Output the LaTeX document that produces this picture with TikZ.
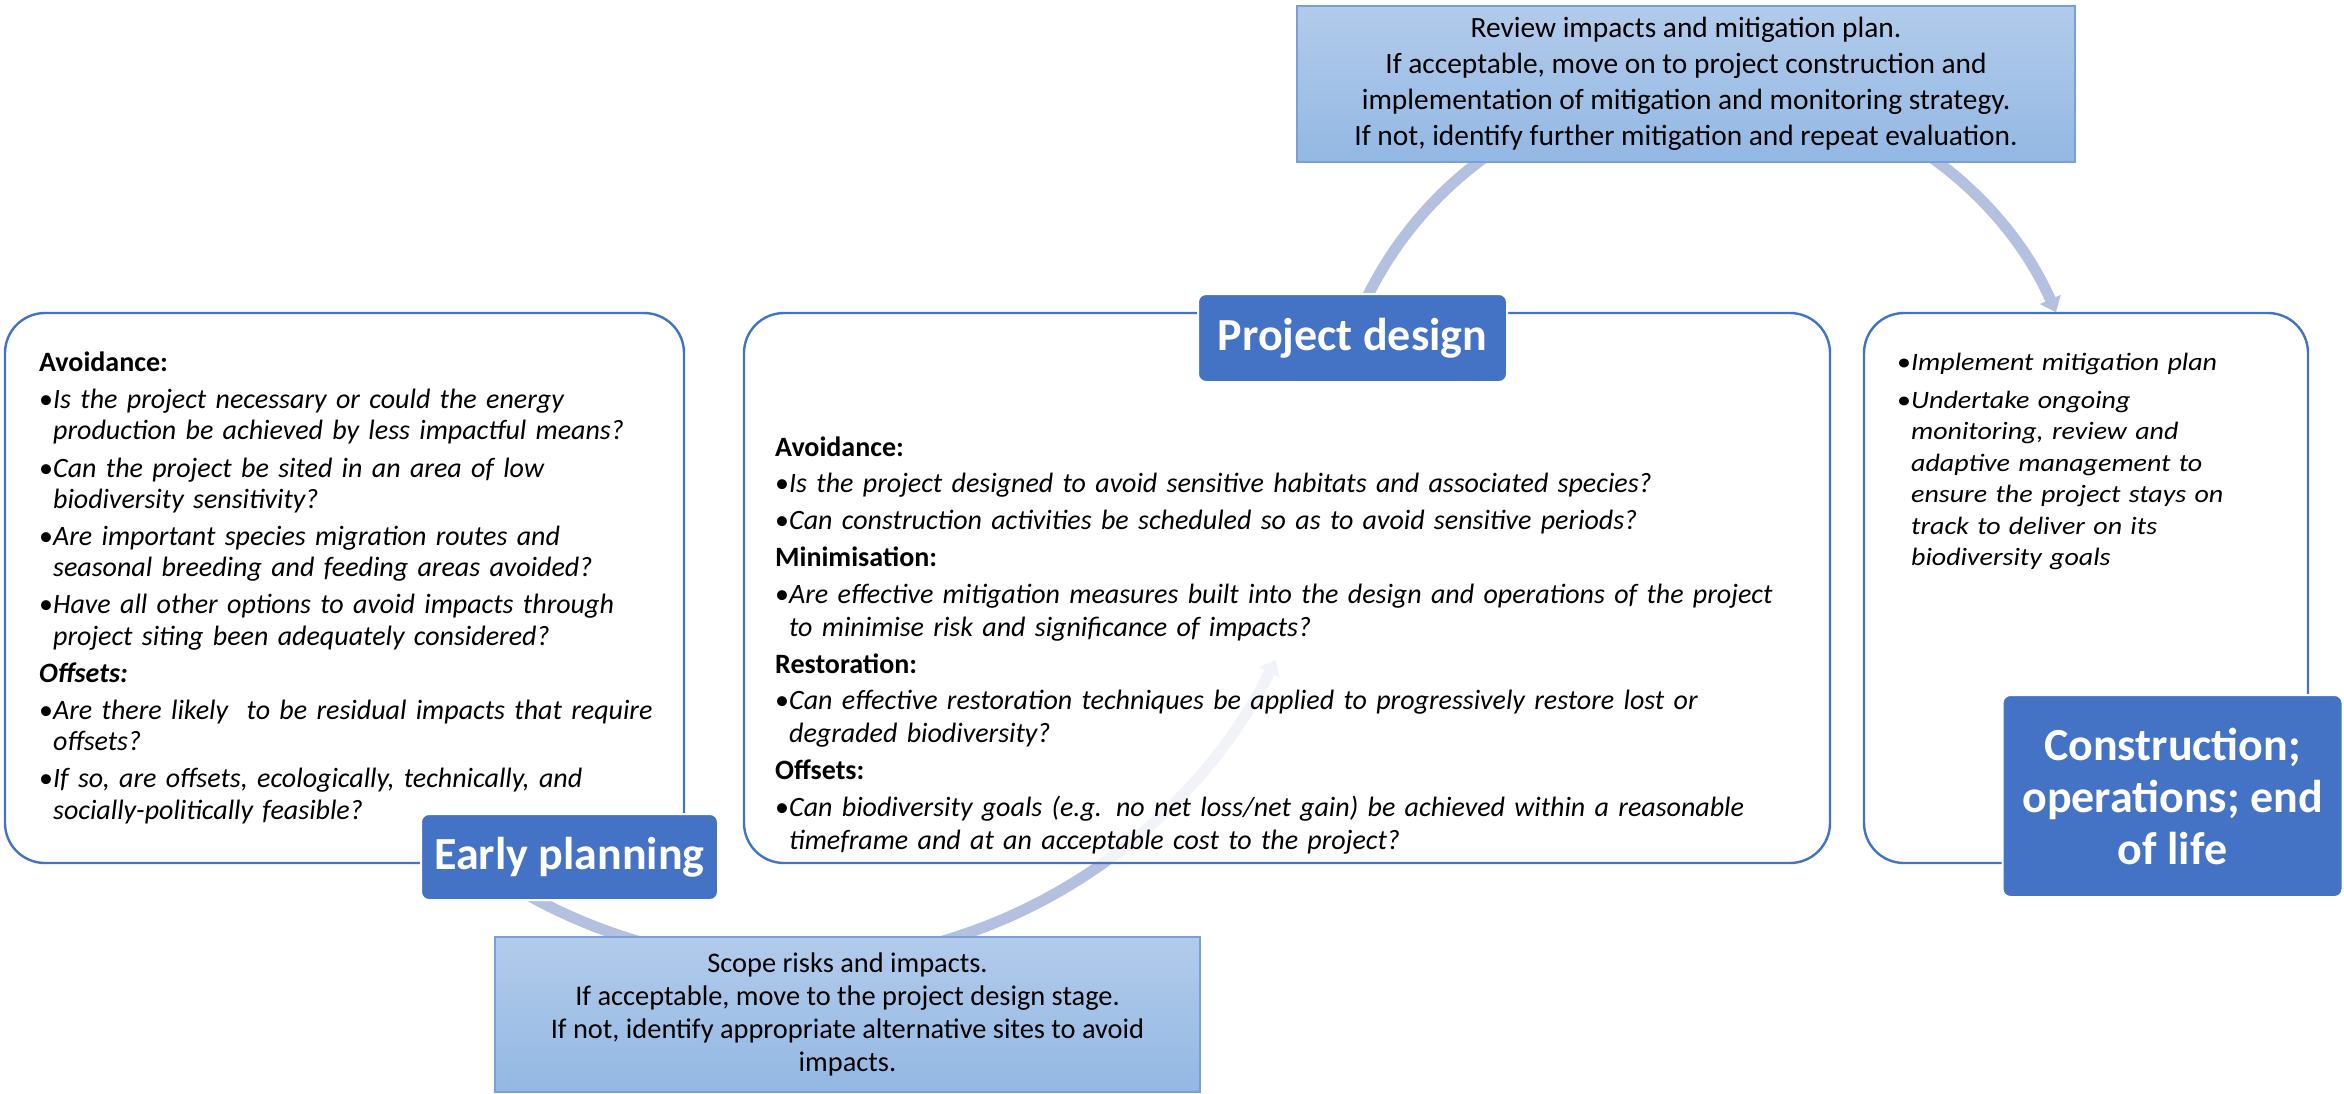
\documentclass[tikz,border=0pt]{standalone}
\usepackage{fontspec}
\setmainfont{Carlito}
\newfontfamily\widesans{Carlito}[FakeStretch=1.12]
\usepackage{tikz}
\usetikzlibrary{arrows.meta,positioning,backgrounds}
\definecolor{stageblue}{RGB}{68,114,196}
\definecolor{arcblue}{RGB}{180,192,224}
\definecolor{notetop}{RGB}{178,203,235}
\definecolor{notebottom}{RGB}{147,184,227}
\definecolor{noteedge}{RGB}{120,160,214}

\newcommand{\sechead}[1]{\par\noindent\textbf{#1}}
\newcommand{\qitem}[1]{\par\setbox0\hbox{\textbullet}\hangindent=\wd0\hangafter=1\noindent\box0\textit{#1}}

\begin{document}
\begin{tikzpicture}[
  x=0.5pt,y=-0.5pt,
  panel/.style={draw=stageblue,line width=1.2pt,fill=white,fill opacity=0.82,
    rounded corners=20pt,inner sep=0pt},
  stage/.style={draw=white,line width=1pt,fill=stageblue,rounded corners=4pt,
    text=white,align=center,inner sep=0pt,font=\fontsize{23}{26}\selectfont\bfseries},
  note/.style={draw=noteedge,line width=0.8pt,top color=notetop,bottom color=notebottom,
    align=center,inner sep=0pt},
  qtext/.style={align=left,inner sep=0pt,text width=#1},
  cyc/.style={draw=arcblue,line width=5.5pt,-{Triangle[width=11pt,length=7pt]}}
]
\useasboundingbox (0,0) rectangle (2344,1093);

\node[panel,minimum width=339.5pt,minimum height=275pt] (planbox) at (344.5,588) {};
\node[panel,minimum width=543pt,minimum height=275pt] (designbox) at (1287,588) {};
\node[panel,minimum width=222pt,minimum height=275pt] (buildbox) at (2086,588) {};

\node[qtext=335pt,font=\fontsize{14}{15.6}\selectfont\setlength{\parskip}{3pt},
  below right=11pt and 17.5pt of planbox.north west] (plantext) {%
  \sechead{Avoidance:}
  \qitem{Is the project necessary or could the energy\newline production be achieved by less impactful means?}
  \qitem{Can the project be sited in an area of low\newline biodiversity sensitivity?}
  \qitem{Are important species migration routes and\newline seasonal breeding and feeding areas avoided?}
  \qitem{Have all other options to avoid impacts through\newline project siting been adequately considered?}
  \sechead{\itshape Offsets:}
  \qitem{Are there likely\ \ to be residual impacts that require\newline offsets?}
  \qitem{If so, are offsets, ecologically, technically, and\newline socially-politically feasible?}\par};

\node[qtext=530pt,font=\fontsize{14}{16.5}\selectfont\setlength{\parskip}{1.9pt},
  below right=53.5pt and 16pt of designbox.north west] (designtext) {%
  \sechead{Avoidance:}
  \qitem{Is the project designed to avoid sensitive habitats and associated species?}
  \qitem{Can construction activities be scheduled so as to avoid sensitive periods?}
  \sechead{Minimisation:}
  \qitem{Are effective mitigation measures built into the design and operations of the project\newline to minimise risk and significance of impacts?}
  \sechead{Restoration:}
  \qitem{Can effective restoration techniques be applied to progressively restore lost or\newline degraded biodiversity?}
  \sechead{Offsets:}
  \qitem{Can biodiversity goals (e.g. no net loss/net gain) be achieved within a reasonable\newline timeframe and at an acceptable cost to the project?}\par};

\node[qtext=200pt,font=\widesans\fontsize{12.5}{15.75}\selectfont\setlength{\parskip}{3pt},
  below right=10.5pt and 17pt of buildbox.north west] (buildtext) {%
  \qitem{Implement mitigation plan}
  \qitem{Undertake ongoing\newline monitoring, review and\newline adaptive management to\newline ensure the project stays on\newline track to deliver on its\newline biodiversity goals}\par};

\node[stage,minimum width=154.5pt,minimum height=44pt] (designstage) at (1352.5,338) {Project design};
\node[stage,minimum width=148.5pt,minimum height=43pt] (planstage) at (569.5,857) {Early planning};
\node[stage,minimum width=170pt,minimum height=101pt] (buildstage) at (2172.5,796)
  {Construction;\\operations; end\\of life};

\node[note,minimum width=389pt,minimum height=78pt,font=\fontsize{14.7}{18}\selectfont]
  (reviewnote) at (1686,84)
  {Review impacts and mitigation plan.\\If acceptable, move on to project construction and\\implementation of mitigation and monitoring strategy.\\If not, identify further mitigation and repeat evaluation.};
\node[note,minimum width=352.5pt,minimum height=77.5pt,font=\fontsize{14.2}{16.5}\selectfont]
  (scopenote) at (847.5,1014.5)
  {Scope risks and impacts.\\If acceptable, move to the project design stage.\\If not, identify appropriate alternative sites to avoid\\impacts.};

\begin{pgfonlayer}{background}
\draw[cyc] ([shift={(-65.5,-20)}]planstage.south) arc[start angle=122,end angle=26,radius=540];
\draw[cyc] ([shift={(5.7,23.5)}]designstage.north) arc[start angle=203,end angle=336.3,radius=380];
\end{pgfonlayer}
\end{tikzpicture}
\end{document}
